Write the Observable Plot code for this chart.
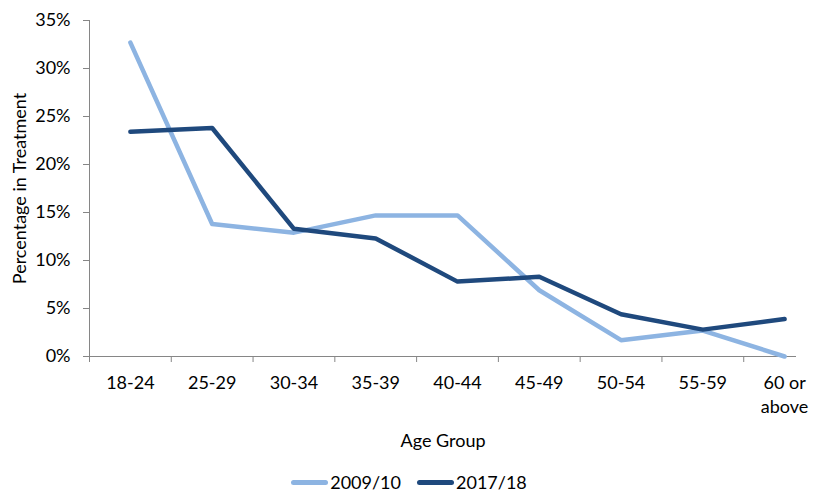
<!DOCTYPE html>
<html>
<head>
<meta charset="utf-8">
<script src="https://cdn.jsdelivr.net/npm/d3@7"></script>
<script src="https://cdn.jsdelivr.net/npm/@observablehq/plot@0.6"></script>
<style>
  html, body { margin: 0; padding: 0; background: #fff; overflow: hidden; }
  body { width: 816px; height: 494px; font-family: Lato, "Open Sans", sans-serif; color: #000; }
  #chart svg { display: block; overflow: hidden; }
  #legend { display: flex; justify-content: center; align-items: center; height: 18px; line-height: 18px; margin-top: 7px; font-size: 18px; gap: 16px; margin-left: 2px; }
  #legend .item { display: flex; align-items: center; }
  #legend .swatch { width: 37px; height: 5px; border-radius: 3px; margin-right: 2px; }
</style>
</head>
<body>
<div id="chart"></div>
<div id="legend"></div>
<script>
// Age groups on the x axis
const categories = ["18-24", "25-29", "30-34", "35-39", "40-44", "45-49", "50-54", "55-59", "60 or\nabove"];
// Share of people in treatment by age group
const series2009 = [0.327, 0.138, 0.129, 0.147, 0.147, 0.069, 0.017, 0.027, 0.0];
const series2017 = [0.234, 0.238, 0.133, 0.123, 0.078, 0.083, 0.044, 0.028, 0.039];
const seriesNames = ["2009/10", "2017/18"];
const seriesColors = ["#8db4e2", "#1f497d"];
const yTicks = [0, 0.05, 0.10, 0.15, 0.20, 0.25, 0.30, 0.35];

const rows = [];
[series2009, series2017].forEach((vals, s) => {
  vals.forEach((v, i) => rows.push({series: seriesNames[s], i, value: v}));
});

const idx = categories.map((_, i) => i);
const boundaries = d3.range(-0.5, categories.length, 1);
const axisGray = "#868686";

const chart = Plot.plot({
  width: 816,
  height: 466,
  marginLeft: 89,
  marginTop: 20,
  marginBottom: 110,
  style: {fontFamily: "Lato, 'Open Sans', sans-serif", fontSize: "18px", color: "#000", background: "#fff"},
  x: {domain: [-0.5, categories.length - 0.5], range: [89, 825]},
  y: {domain: [0, 0.35], range: [356, 20]},
  color: {domain: seriesNames, range: seriesColors},
  marks: [
    Plot.ruleY([0], {stroke: axisGray, strokeWidth: 1}),
    Plot.ruleX([-0.5], {y1: 0, y2: 0.35, stroke: axisGray, strokeWidth: 1}),
    Plot.axisY(yTicks, {
      tickSize: 6, tickPadding: 13, stroke: axisGray, fill: "#000",
      tickFormat: d3.format(".0%"),
      label: "Percentage in Treatment", labelArrow: "none", labelAnchor: "center", labelOffset: 76
    }),
    Plot.axisX(boundaries, {tickSize: 6, stroke: axisGray, tickFormat: () => "", label: null}),
    Plot.axisX(idx, {
      tickSize: 0, tickPadding: 16, fill: "#000", lineHeight: 1.3,
      tickFormat: i => categories[i],
      label: "Age Group", labelArrow: "none", labelAnchor: "center", labelOffset: 90
    }),
    Plot.line(rows, {
      x: "i", y: "value", z: "series", stroke: "series",
      strokeWidth: 4.5, strokeLinejoin: "round", strokeLinecap: "round"
    })
  ]
});
document.getElementById("chart").appendChild(chart);

const legend = document.getElementById("legend");
seriesNames.forEach((name, s) => {
  const item = document.createElement("div");
  item.className = "item";
  const sw = document.createElement("div");
  sw.className = "swatch";
  sw.style.background = seriesColors[s];
  const label = document.createElement("span");
  label.textContent = name;
  item.appendChild(sw);
  item.appendChild(label);
  legend.appendChild(item);
});
</script>
</body>
</html>
